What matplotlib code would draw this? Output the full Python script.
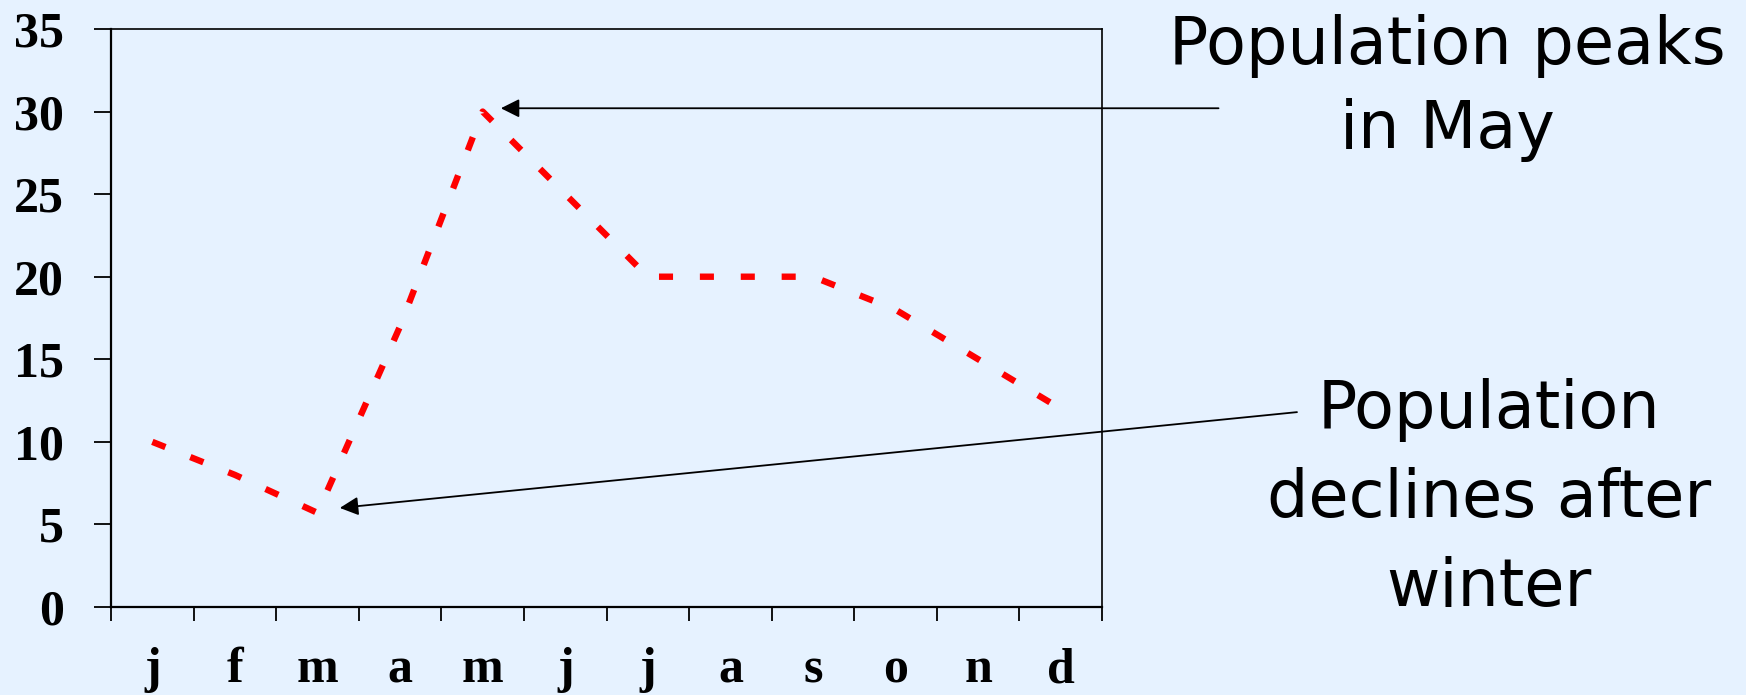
import numpy as np
import matplotlib
matplotlib.use("Agg")
import matplotlib.pyplot as plt

months = ["j", "f", "m", "a", "m", "j", "j", "a", "s", "o", "n", "d"]
population = [10, 8, 5.7, 17, 30, 25, 20, 20, 20, 18, 15, 12]
y_ticks = [0, 5, 10, 15, 20, 25, 30, 35]

bg = "#E6F2FF"

fig = plt.figure(figsize=(17.46, 6.95), dpi=100, facecolor=bg)
ax = fig.add_axes([0.0636, 0.1266, 0.5676, 0.8317], facecolor=bg)

x = np.arange(len(months))
ax.plot(x, population, color="red", linewidth=4.6, dashes=(2.2, 4.2),
        solid_capstyle="butt", dash_capstyle="butt")

ax.set_xlim(-0.5, len(months) - 0.5)
ax.set_ylim(0, 35)

# month labels in the middle, ticks on the category borders
ax.set_xticks(x)
ax.set_xticklabels(months, fontfamily="Liberation Serif", fontweight="bold", fontsize=36)
ax.set_xticks(np.arange(-0.5, len(months)), minor=True)
ax.tick_params(axis="x", which="major", length=0, pad=29)
ax.tick_params(axis="x", which="minor", length=10, width=1.3, direction="out")

ax.set_yticks(y_ticks)
ax.set_yticklabels([str(v) for v in y_ticks], fontfamily="Liberation Serif",
                   fontweight="bold", fontsize=36)
ax.tick_params(axis="y", length=12, width=1.3, direction="out", pad=22)

for side in ["left", "bottom"]:
    ax.spines[side].set_linewidth(1.6)
for side in ["top", "right"]:
    ax.spines[side].set_linewidth(1.2)

arrow = dict(arrowstyle="-|>", color="black", lw=1.3, mutation_scale=28,
             shrinkA=0, shrinkB=0)

ax.annotate("", xy=(4.22, 30.2), xytext=(12.91, 30.2), arrowprops=arrow,
            annotation_clip=False)
ax.annotate("", xy=(2.27, 6.0), xytext=(13.86, 11.8), arrowprops=arrow,
            annotation_clip=False)

fig.text(1447 / 1746, 1 - 88 / 695, "Population peaks\nin May", ha="center", va="center",
         fontsize=47, fontfamily="DejaVu Sans", linespacing=1.38)
fig.text(1489 / 1746, 1 - 499 / 695, "Population\ndeclines after\nwinter", ha="center",
         va="center", fontsize=47, fontfamily="DejaVu Sans", linespacing=1.5)

plt.savefig("out.png", dpi=100, facecolor=bg)
